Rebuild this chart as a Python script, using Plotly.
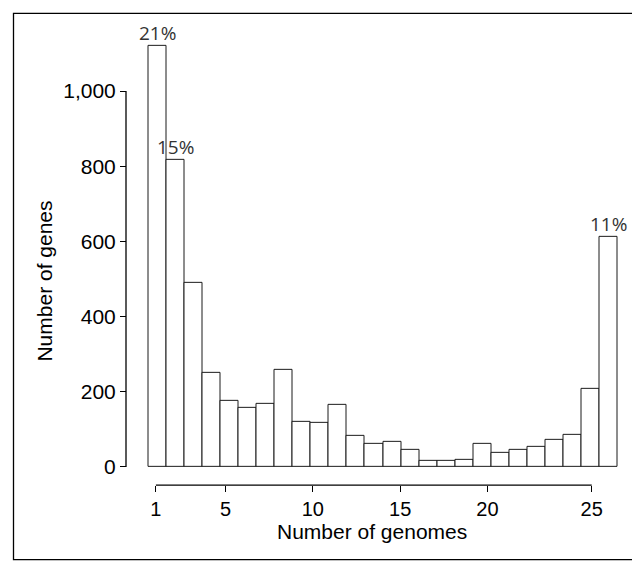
import plotly.graph_objects as go

# ---- data ----
genome_counts = list(range(1, 27))
gene_counts = [1120, 817, 490, 250, 177, 157, 167, 257, 120, 116, 165, 82, 60,
               66, 46, 17, 16, 20, 61, 38, 45, 54, 72, 84, 207, 611]
pct_bars = [1, 2, 26]
pct_text = ["21%", "15%", "11%"]
y_ticks = [0, 200, 400, 600, 800, 1000]
y_ticktext = ["0", "200", "400", "600", "800", "1,000"]
x_ticktext = ["1", "5", "10", "15", "20", "25"]

# ---- layout constants (pixels of a 640x565 page) ----
W, H = 640, 565
x_tick_pos = [0.91, 4.77, 9.61, 14.45, 19.29, 25.07]   # where the reference places its ticks
bars_left, bars_right = 140.5, 609.5        # pixel span of the bar block
pad_px = 4                                   # room so edge strokes are not clipped
unit_px = (bars_right - bars_left) / len(genome_counts)
x_range = [0.5 - pad_px / unit_px, len(genome_counts) + 0.5 + pad_px / unit_px]
plot_left, plot_right = bars_left - pad_px, bars_right + pad_px
plot_top, plot_bottom = 8, 468
yaxis_px = 118
xaxis_px = 486.7
FONT = "Liberation Sans, Arial, Helvetica, sans-serif"

fig = go.Figure()
fig.add_trace(go.Bar(
    x=genome_counts, y=gene_counts,
    marker=dict(color="white", line=dict(color="#1a1a1a", width=1)),
    width=1.0, showlegend=False, hoverinfo="x+y",
))

for b, t in zip(pct_bars, pct_text):
    fig.add_annotation(x=b, y=gene_counts[genome_counts.index(b)], text=t,
                       xref="x", yref="y", showarrow=False,
                       yanchor="middle", yshift=13,
                       font=dict(family="Open Sans, Noto Sans, sans-serif", size=19, color="#333333"))

# y axis line from 0 to 1000 only
fig.add_shape(type="line", xref="paper", yref="y",
              x0=yaxis_px / W, x1=yaxis_px / W, y0=y_ticks[0], y1=y_ticks[-1],
              line=dict(color="black", width=1.3))
# x axis line from first to last tick
fig.add_shape(type="line", xref="x", yref="paper",
              x0=x_tick_pos[0], x1=x_tick_pos[-1],
              y0=(H - xaxis_px) / H, y1=(H - xaxis_px) / H,
              line=dict(color="black", width=1.3))
# outer frame
fig.add_shape(type="rect", xref="paper", yref="paper",
              x0=5.5 / W, x1=638.5 / W, y0=(H - 562.5) / H, y1=(H - 5.5) / H,
              line=dict(color="black", width=1.3))

fig.add_annotation(text="Number of genomes", xref="paper", yref="paper",
                   x=364 / W, y=(H - 534) / H, showarrow=False,
                   xanchor="center", yanchor="middle",
                   font=dict(family=FONT, size=21, color="black"))
fig.add_annotation(text="Number of genes", xref="paper", yref="paper",
                   x=37 / W, y=(H - 279) / H, showarrow=False, textangle=-90,
                   xanchor="center", yanchor="middle",
                   font=dict(family=FONT, size=21, color="black"))

fig.update_layout(
    width=W, height=H,
    margin=dict(l=0, r=0, t=0, b=0, pad=0),
    paper_bgcolor="white", plot_bgcolor="white",
    bargap=0,
    font=dict(family=FONT, size=21, color="black"),
    xaxis=dict(domain=[plot_left / W, plot_right / W], range=x_range,
               anchor="free", position=(H - xaxis_px) / H,
               tickmode="array", tickvals=x_tick_pos, ticktext=x_ticktext,
               ticks="outside", ticklen=6, tickwidth=1.3, tickcolor="black",
               showline=False, showgrid=False, zeroline=False,
               tickfont=dict(family=FONT, size=20, color="black")),
    yaxis=dict(domain=[(H - plot_bottom) / H, (H - plot_top) / H], range=[0, 1200],
               anchor="free", position=yaxis_px / W,
               tickmode="array", tickvals=y_ticks, ticktext=y_ticktext,
               ticks="outside", ticklen=6, tickwidth=1.3, tickcolor="black",
               showline=False, showgrid=False, zeroline=False,
               tickfont=dict(family=FONT, size=21, color="black")),
)

fig.write_html("out.html")
